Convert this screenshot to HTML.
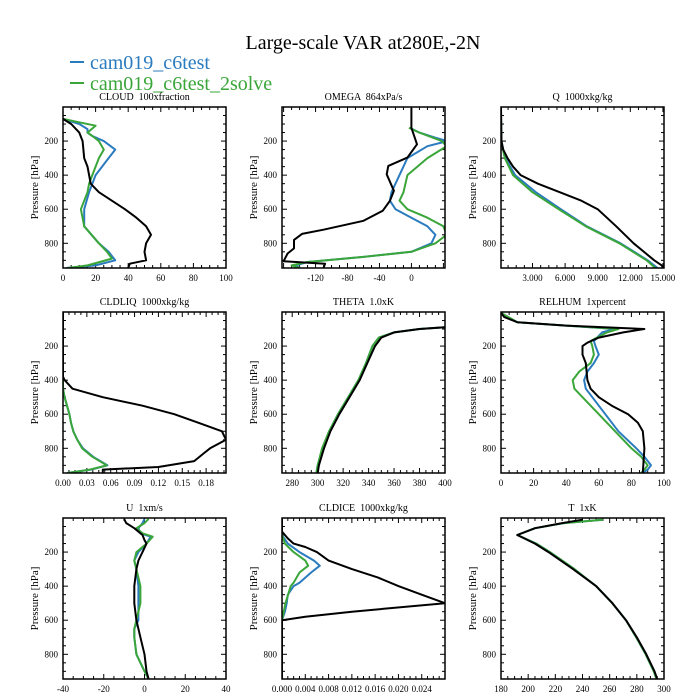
<!DOCTYPE html>
<html><head><meta charset="utf-8"><style>
html,body{margin:0;padding:0;background:#fff;}
svg{display:block;font-family:"Liberation Serif",serif;}
svg text{white-space:pre;}
</style></head><body>
<svg id="chart" width="700" height="700" viewBox="0 0 700 700">
<text x="363" y="49" font-size="20" text-anchor="middle">Large-scale VAR at280E,-2N</text>
<g>
<line x1="70" y1="62" x2="84" y2="62" stroke="#2b7bbf" stroke-width="2"/>
<text x="90" y="69" font-size="20" fill="#2b7bbf">cam019_c6test</text>
<line x1="70" y1="83" x2="84" y2="83" stroke="#3aa63a" stroke-width="2"/>
<text x="90" y="90" font-size="20" fill="#3aa63a">cam019_c6test_2solve</text>
</g>
</svg>
<script>
// ---- data ----
const cloudP_b=[70,100,150,200,300,350,450,500,550,600,650,700,750,800,850,900,920,945];
const cloudV_b=[0,5,10,12,13,15,17,22,30,38,45,51,54,51,50,51,41,40];
const cloudP_1=[70,100,130,150,170,200,250,300,400,500,600,700,800,850,900,930,945];
const cloudV_1=[0,10,15,15,18,25,32,28,20,16,13,13,22,28,32,20,2];
const cloudP_2=[70,90,110,150,170,200,250,300,400,450,500,600,700,800,850,890,930,945];
const cloudV_2=[0,10,20,15,18,22,25,22,18,16,15,11,13,22,27,30,15,3];

const omegaP_b=[5,122,219,297,346,395,492,551,609,668,720,745,780,830,860,905,920,945];
const omegaV_b=[0,0,7,-5,-29,-31,-22,-27,-36,-60,-110,-137,-147,-147,-155,-160,-108,-110];
const omegaP_1=[122,150,180,200,230,300,400,500,550,600,650,700,750,800,850,880,910,930,945];
const omegaV_1=[-2,10,30,45,20,-5,-15,-25,-27,-20,0,20,30,25,0,-60,-130,-145,-140];
const omegaP_2=[122,150,200,230,300,400,500,550,600,650,700,750,800,850,880,910,930,945];
const omegaV_2=[-3,10,38,44,20,-5,-10,-15,-5,20,40,44,30,0,-60,-130,-150,-140];

const qP_b=[5,200,250,300,350,400,450,500,550,600,700,800,900,930,945];
const qV_b=[0.1,0.15,0.3,0.7,1.2,1.9,3.5,5.5,7.5,9.0,10.7,12.3,14.2,14.9,15];
const qP_1=[5,200,300,400,500,600,700,800,900,945];
const qV_1=[0.1,0.12,0.5,1.4,3.3,5.6,8.0,11.1,13.6,14.5];
const qP_2=[5,200,300,400,500,600,700,800,900,945];
const qV_2=[0.1,0.11,0.45,1.2,3.0,5.4,7.9,11.0,13.5,14.3];

const liqP_b=[5,380,400,450,500,550,600,650,700,750,800,830,875,910,925,945];
const liqV_b=[0,0,0.002,0.012,0.05,0.1,0.14,0.17,0.2,0.205,0.185,0.177,0.165,0.12,0.05,0.05];
const liqP_1=[5,450,500,600,650,700,750,800,850,900,925,945];
const liqV_1=[0,0,0.002,0.008,0.01,0.013,0.018,0.025,0.038,0.056,0.035,0.005];
const liqP_2=[5,450,500,600,650,700,750,800,850,900,925,945];
const liqV_2=[0,0,0.002,0.008,0.01,0.013,0.018,0.024,0.037,0.055,0.034,0.005];

const thP_b=[90,100,120,150,200,300,400,500,600,700,800,900,945];
const thV_b=[400,380,360,350,345,339,333,325,317,310,305,301,300];
const thP_1=[90,100,120,150,200,300,400,500,600,700,800,900,945];
const thV_1=[400,380,360,348,343,338,332,324,316,309,304,300,299];
const thP_2=thP_1;
const thV_2=[400,380,360,348,343,338,332,324,316,309,303.5,300,299];

const rhP_b=[5,30,60,80,100,120,150,180,200,250,300,400,450,500,550,600,650,700,800,945];
const rhV_b=[0,2,10,40,88,75,60,53,50,50,52,53,55,60,68,78,84,87,88,87];
const rhP_1=[5,60,80,100,120,170,200,250,300,350,400,450,500,600,700,800,850,900,925,945];
const rhV_1=[0,10,40,70,62,57,58,60,57,53,51,52,56,64,72,83,88,92,90,87];
const rhP_2=[5,60,80,100,120,170,200,250,300,350,400,450,500,600,700,800,850,900,925,945];
const rhV_2=[0,10,40,72,65,55,56,57,55,48,44,45,50,60,70,80,86,90,88,86];

const uP_b=[5,30,60,100,130,150,200,250,300,400,500,600,700,800,900,945];
const uV_b=[-10,-9,-5,-1,0,1,-1,-3,-4,-5,-5,-4,-2,0,1,2];
const uP_1=[5,30,60,90,110,150,200,250,300,400,500,600,650,700,800,900,945];
const uV_1=[0,-1,-3,-2,3,1,-3,-5,-4,-3,-3,-3,-5,-5,-4,0,2];
const uP_2=[5,30,60,90,110,150,200,250,300,400,500,600,650,700,800,900,945];
const uV_2=[2,0,-4,-1,4,1,-4,-5,-4,-2,-2,-4,-5,-5,-4,0,2];

const iceP_b=[5,80,120,150,170,200,250,300,350,400,450,500,550,580,600,945];
const iceV_b=[0,0,0.001,0.002,0.004,0.006,0.008,0.012,0.0165,0.02,0.024,0.028,0.012,0.004,0,0];
const iceP_1=[5,100,150,200,250,280,320,380,400,450,500,550,600,945];
const iceV_1=[0,0,0.001,0.003,0.0055,0.0065,0.005,0.003,0.002,0.001,0.0008,0.0005,0,0];
const iceP_2=[5,100,150,200,250,280,320,380,400,500,600,945];
const iceV_2=[0,0,0.0005,0.002,0.004,0.0045,0.003,0.002,0.0015,0.0006,0,0];

const tP_b=[10,30,60,100,150,200,300,400,500,600,700,800,900,945];
const tV_b=[240,225,205,192,205,215,233,250,262,272,280,287,293,295];
const tP_1=[10,30,60,100,150,200,300,400,500,600,700,800,900,945];
const tV_1=[255,226,205,192,206,216,234,250,262,272,279.5,286.5,292.5,294.5];
const tP_2=tP_1;
const tV_2=[255,226,205,192,206,216,234,250,262,272,279.5,286.5,292.5,294.5];

const cloudTicks=["0","20","40","60","80","100"];
const omegaTicks=["-120","-80","-40","0"];
const qTicks=["3.000","6.000","9.000","12.000","15.000"];
const liqTicks=["0.00","0.03","0.06","0.09","0.12","0.15","0.18"];
const thTicks=["280","300","320","340","360","380","400"];
const rhTicks=["0","20","40","60","80","100"];
const uTicks=["-40","-20","0","20","40"];
const iceTicks=["0.000","0.004","0.008","0.012","0.016","0.020","0.024"];
const tTicks=["180","200","220","240","260","280","300"];
const pTicks=[200,400,600,800];

// ---- layout ----
const colX=[63,282,501], rowY=[107,312,518], W=163, H=161, P0=0, P1=945;
const panels=[
 {name:"cloud",title:"CLOUD  100xfraction",c:0,r:0,xmin:0,xmax:100,ticks:cloudTicks,s:[[cloudP_1,cloudV_1],[cloudP_2,cloudV_2],[cloudP_b,cloudV_b]]},
 {name:"omega",title:"OMEGA  864xPa/s",c:1,r:0,xmin:-162,xmax:42,ticks:omegaTicks,s:[[omegaP_1,omegaV_1],[omegaP_2,omegaV_2],[omegaP_b,omegaV_b]]},
 {name:"q",title:"Q  1000xkg/kg",c:2,r:0,xmin:0.1,xmax:15.1,ticks:qTicks,s:[[qP_1,qV_1],[qP_2,qV_2],[qP_b,qV_b]]},
 {name:"cldliq",title:"CLDLIQ  1000xkg/kg",c:0,r:1,xmin:0,xmax:0.205,ticks:liqTicks,s:[[liqP_1,liqV_1],[liqP_2,liqV_2],[liqP_b,liqV_b]]},
 {name:"theta",title:"THETA  1.0xK",c:1,r:1,xmin:272,xmax:400,ticks:thTicks,s:[[thP_1,thV_1],[thP_2,thV_2],[thP_b,thV_b]]},
 {name:"relhum",title:"RELHUM  1xpercent",c:2,r:1,xmin:0,xmax:100,ticks:rhTicks,s:[[rhP_1,rhV_1],[rhP_2,rhV_2],[rhP_b,rhV_b]]},
 {name:"u",title:"U  1xm/s",c:0,r:2,xmin:-40,xmax:40,ticks:uTicks,s:[[uP_1,uV_1],[uP_2,uV_2],[uP_b,uV_b]]},
 {name:"cldice",title:"CLDICE  1000xkg/kg",c:1,r:2,xmin:0,xmax:0.028,ticks:iceTicks,s:[[iceP_1,iceV_1],[iceP_2,iceV_2],[iceP_b,iceV_b]]},
 {name:"t",title:"T  1xK",c:2,r:2,xmin:180,xmax:300,ticks:tTicks,s:[[tP_1,tV_1],[tP_2,tV_2],[tP_b,tV_b]]}
];
const colors=["#2b7bbf","#3aa63a","#000000"];
const seriesNames=["c6test","2solve","control"];
const NS="http://www.w3.org/2000/svg";
const svg=document.getElementById('chart');
function mk(tag,attrs,parent){const e=document.createElementNS(NS,tag);for(const k in attrs)e.setAttribute(k,attrs[k]);parent.appendChild(e);return e;}

panels.forEach(pn=>{
 const x0=colX[pn.c], y0=rowY[pn.r];
 const sx=v=>x0+(v-pn.xmin)/(pn.xmax-pn.xmin)*W;
 const sy=p=>y0+(p-P0)/(P1-P0)*H;
 const g=mk('g',{},svg);
 
 
 const cp=mk('clipPath',{id:'clip-'+pn.name},g);
 mk('rect',{x:x0,y:y0,width:W,height:H},cp);
 const t=mk('text',{x:x0+W/2,y:y0-7,'font-size':10,'text-anchor':'middle'},g);
 t.textContent=pn.title;
 
 
 const yl=mk('text',{transform:`translate(${x0-25},${y0+H/2}) rotate(-90)`,'font-size':11,'text-anchor':'middle'},g);
 yl.textContent='Pressure [hPa]';
 
 
 for(let p=50;p<P1;p+=50){
  const maj=p%200===0, L=maj?5:3;
  mk('line',{x1:x0,y1:sy(p),x2:x0+L,y2:sy(p),stroke:'#000','stroke-width':1},g);
  mk('line',{x1:x0+W,y1:sy(p),x2:x0+W-L,y2:sy(p),stroke:'#000','stroke-width':1},g);
 }
 pTicks.forEach(p=>{
  const tl=mk('text',{x:x0-5,y:sy(p)+3,'font-size':9,'text-anchor':'end'},g);
  tl.textContent=String(p);
  
  
 });
 const vals=pn.ticks.map(Number);
 const step=vals.length>1?vals[1]-vals[0]:1;
 const minor=step/4;
 const start=Math.ceil((pn.xmin+1e-9)/minor)*minor;
 for(let v=start;v<pn.xmax-1e-9;v+=minor){
  const k=Math.round((v-vals[0])/minor);
  const maj=((k%4)+4)%4===0, L=maj?5:3;
  mk('line',{x1:sx(v),y1:y0+H,x2:sx(v),y2:y0+H-L,stroke:'#000','stroke-width':1},g);
  mk('line',{x1:sx(v),y1:y0,x2:sx(v),y2:y0+L,stroke:'#000','stroke-width':1},g);
 }
 pn.ticks.forEach(lbl=>{
  const xl=mk('text',{x:sx(Number(lbl)),y:y0+H+13,'font-size':9,'text-anchor':'middle'},g);
  xl.textContent=lbl;
  
  
 });
 pn.s.forEach((sr,i)=>{
  const [ps,vs]=sr;
  const d=ps.map((p,j)=>(j?'L':'M')+sx(vs[j]).toFixed(1)+','+sy(p).toFixed(1)).join(' ');
  const path=mk('path',{d:d,fill:'none',stroke:colors[i],'stroke-width':2,'stroke-linejoin':'round','clip-path':'url(#clip-'+pn.name+')'},g);
  
  
 });
 const fr=mk('rect',{x:x0,y:y0,width:W,height:H,fill:'none',stroke:'#000','stroke-width':1.5},g);
 
 
});
</script>
</body></html>
